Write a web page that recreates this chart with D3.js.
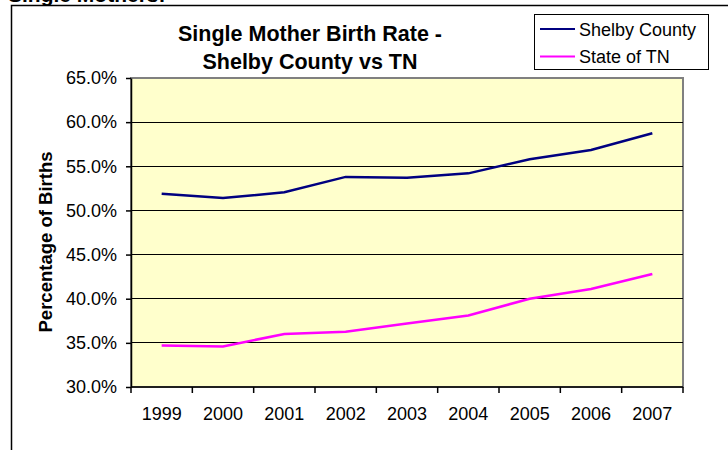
<!DOCTYPE html>
<html>
<head>
<meta charset="utf-8">
<script src="https://cdn.jsdelivr.net/npm/d3@7"></script>
<style>
  body { margin: 0; background: #fff; }
  svg { display: block; font-family: "Liberation Sans", Arial, sans-serif; }
</style>
</head>
<body>
<div id="chart"></div>
<script>
const years = ["1999", "2000", "2001", "2002", "2003", "2004", "2005", "2006", "2007"];
const shelby = [51.9, 51.4, 52.05, 53.8, 53.7, 54.2, 55.8, 56.85, 58.75];
const stateTN = [34.7, 34.6, 36.0, 36.25, 37.2, 38.1, 40.0, 41.1, 42.8];
const yTicks = [30, 35, 40, 45, 50, 55, 60, 65];
const seriesNames = ["Shelby County", "State of TN"];
const seriesColors = ["#000080", "#ff00ff"];

const width = 728;
const height = 450;
const margin = { top: 78, right: 45, bottom: 63, left: 131 };

const svg = d3.select("#chart")
  .append("svg")
  .attr("width", width)
  .attr("height", height);

// outer frame (cut off by the page)
svg.append("rect")
  .attr("x", 11.5).attr("y", 5.5)
  .attr("width", 760).attr("height", 500)
  .attr("fill", "#fff")
  .attr("stroke", "#000")
  .attr("stroke-width", 1.5);

svg.append("text")
  .attr("x", 8).attr("y", 2)
  .attr("font-size", 21).attr("font-weight", "bold")
  .text("Single Mothers:");

const x = d3.scaleBand()
  .domain(years)
  .range([margin.left, width - margin.right]);

const y = d3.scaleLinear()
  .domain([30, 65])
  .range([height - margin.bottom, margin.top]);

// plot area
svg.append("rect")
  .attr("x", margin.left).attr("y", margin.top)
  .attr("width", x.range()[1] - margin.left)
  .attr("height", y(30) - y(65))
  .attr("fill", "#ffffcc")
  .attr("stroke", "#808080")
  .attr("stroke-width", 2);

// gridlines
svg.append("g")
  .selectAll("line")
  .data(yTicks.slice(1, -1))
  .join("line")
  .attr("x1", margin.left).attr("x2", x.range()[1])
  .attr("y1", d => y(d)).attr("y2", d => y(d))
  .attr("stroke", "#000")
  .attr("stroke-width", 1)
  .attr("shape-rendering", "crispEdges");

// y axis
const yAxis = g => g
  .attr("transform", `translate(${margin.left},0)`)
  .call(d3.axisLeft(y).tickValues(yTicks).tickFormat(d => d.toFixed(1) + "%").tickSize(5).tickSizeOuter(0).tickPadding(9))
  .call(g => g.selectAll("text").attr("font-size", 18).attr("fill", "#000").attr("font-family", "Liberation Sans, Arial, sans-serif"))
  .call(g => g.selectAll("line, path").attr("stroke", "#000").attr("stroke-width", 1.5));

svg.append("g").call(yAxis);

// x axis: ticks between categories
const xBoundaries = years.map(d => x(d)).concat([x.range()[1]]);
const xg = svg.append("g");
xg.append("line")
  .attr("x1", margin.left).attr("x2", x.range()[1])
  .attr("y1", y(30)).attr("y2", y(30))
  .attr("stroke", "#000").attr("stroke-width", 1.5);
xg.selectAll(".xtick")
  .data(xBoundaries)
  .join("line")
  .attr("class", "xtick")
  .attr("x1", d => d).attr("x2", d => d)
  .attr("y1", y(30)).attr("y2", y(30) + 6)
  .attr("stroke", "#000").attr("stroke-width", 1.5);
xg.selectAll(".xlabel")
  .data(years)
  .join("text")
  .attr("class", "xlabel")
  .attr("x", d => x(d) + x.bandwidth() / 2)
  .attr("y", 420)
  .attr("text-anchor", "middle")
  .attr("font-size", 18)
  .text(d => d);

// lines
const line = d3.line()
  .x((d, i) => x(years[i]) + x.bandwidth() / 2)
  .y(d => y(d));

[shelby, stateTN].forEach((values, i) => {
  svg.append("path")
    .datum(values)
    .attr("fill", "none")
    .attr("stroke", seriesColors[i])
    .attr("stroke-width", 2.5)
    .attr("d", line);
});

// title
const title = svg.append("text")
  .attr("text-anchor", "middle")
  .attr("font-size", 21.5)
  .attr("font-weight", "bold");
title.append("tspan").attr("x", 310).attr("y", 41).text("Single Mother Birth Rate -");
title.append("tspan").attr("x", 310).attr("y", 69).text("Shelby County vs TN");

// y axis title
svg.append("text")
  .attr("transform", "translate(52,242) rotate(-90)")
  .attr("text-anchor", "middle")
  .attr("font-size", 18.5)
  .attr("font-weight", "bold")
  .text("Percentage of Births");

// legend
const legend = svg.append("g");
legend.append("rect")
  .attr("x", 534.5).attr("y", 14.5)
  .attr("width", 174).attr("height", 55)
  .attr("fill", "#fff")
  .attr("stroke", "#000")
  .attr("stroke-width", 1);

seriesNames.forEach((name, i) => {
  const ly = 29 + i * 27.5;
  legend.append("line")
    .attr("x1", 540).attr("x2", 575)
    .attr("y1", ly).attr("y2", ly)
    .attr("stroke", seriesColors[i])
    .attr("stroke-width", 2);
  legend.append("text")
    .attr("x", 579).attr("y", ly + 6.5)
    .attr("font-size", 18)
    .text(name);
});
</script>
</body>
</html>
